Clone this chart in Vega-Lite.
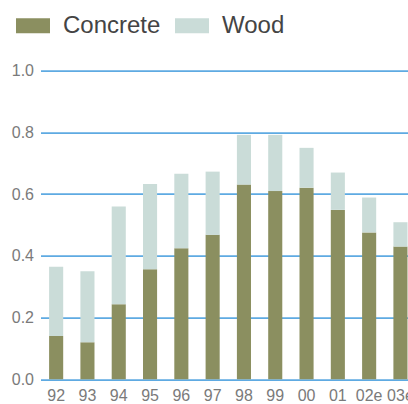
{
  "$schema": "https://vega.github.io/schema/vega-lite/v6.json",
  "width": 375.6,
  "height": 308.6,
  "autosize": {"type": "none"},
  "padding": {"left": 40.5, "top": 70.7, "right": 0, "bottom": 24.7},
  "background": "#ffffff",
  "config": {
    "view": {"stroke": null},
    "font": "Liberation Sans Narrow, Liberation Sans, sans-serif"
  },
  "data": {
    "values": [
      {"year": "92", "material": "Concrete", "share": 0.14},
      {"year": "92", "material": "Wood", "share": 0.225},
      {"year": "93", "material": "Concrete", "share": 0.12},
      {"year": "93", "material": "Wood", "share": 0.23},
      {"year": "94", "material": "Concrete", "share": 0.243},
      {"year": "94", "material": "Wood", "share": 0.317},
      {"year": "95", "material": "Concrete", "share": 0.357},
      {"year": "95", "material": "Wood", "share": 0.276},
      {"year": "96", "material": "Concrete", "share": 0.425},
      {"year": "96", "material": "Wood", "share": 0.241},
      {"year": "97", "material": "Concrete", "share": 0.468},
      {"year": "97", "material": "Wood", "share": 0.205},
      {"year": "98", "material": "Concrete", "share": 0.631},
      {"year": "98", "material": "Wood", "share": 0.161},
      {"year": "99", "material": "Concrete", "share": 0.61},
      {"year": "99", "material": "Wood", "share": 0.182},
      {"year": "00", "material": "Concrete", "share": 0.621},
      {"year": "00", "material": "Wood", "share": 0.129},
      {"year": "01", "material": "Concrete", "share": 0.549},
      {"year": "01", "material": "Wood", "share": 0.121},
      {"year": "02e", "material": "Concrete", "share": 0.476},
      {"year": "02e", "material": "Wood", "share": 0.113},
      {"year": "03e", "material": "Concrete", "share": 0.43},
      {"year": "03e", "material": "Wood", "share": 0.079}
    ]
  },
  "mark": {"type": "bar"},
  "encoding": {
    "x": {
      "field": "year",
      "type": "ordinal",
      "sort": null,
      "scale": {"paddingInner": 0.55, "paddingOuter": 0.275},
      "axis": {
        "title": null,
        "domain": false,
        "ticks": false,
        "labelAngle": 0,
        "labelFontSize": 16,
        "labelColor": "#7a7a7a",
        "labelPadding": 8
      }
    },
    "y": {
      "field": "share",
      "type": "quantitative",
      "stack": "zero",
      "scale": {"domain": [0, 1], "nice": false},
      "axis": {
        "title": null,
        "domain": false,
        "ticks": false,
        "values": [0, 0.2, 0.4, 0.6, 0.8, 1.0],
        "format": ".1f",
        "labelFontSize": 16,
        "labelColor": "#7a7a7a",
        "labelPadding": 7,
        "grid": true,
        "gridColor": "#5eaae2",
        "gridWidth": 1.8,
        "gridOpacity": 1
      }
    },
    "order": {"field": "material", "type": "nominal", "sort": "ascending"},
    "color": {
      "field": "material",
      "type": "nominal",
      "scale": {"domain": ["Concrete", "Wood"], "range": ["#8b8f60", "#cadcd8"]},
      "legend": {
        "title": null,
        "orient": "none",
        "direction": "horizontal",
        "legendX": -24.5,
        "legendY": -62,
        "symbolType": "M-1,-0.44H1V0.44H-1Z",
        "symbolSize": 1156,
        "symbolStrokeWidth": 0,
        "symbolOpacity": 1,
        "labelFontSize": 24,
        "labelColor": "#444444",
        "labelOffset": 13,
        "columnPadding": 14
      }
    }
  }
}
